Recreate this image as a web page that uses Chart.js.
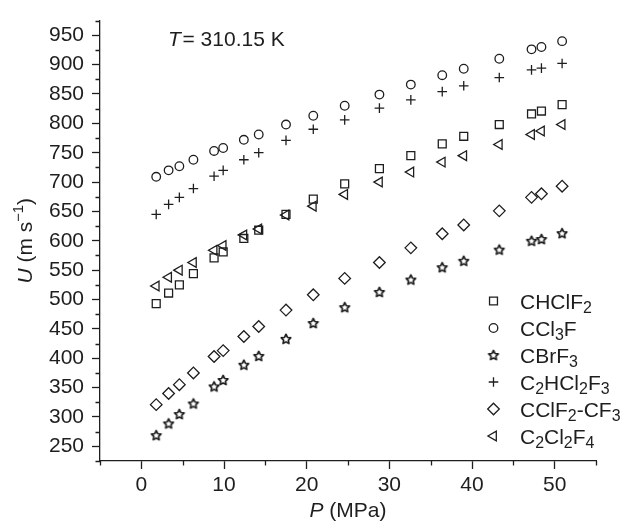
<!DOCTYPE html>
<html>
<head>
<meta charset="utf-8">
<script src="https://cdn.jsdelivr.net/npm/chart.js@4/dist/chart.umd.min.js"></script>
<style>
  html, body { margin: 0; padding: 0; background: #fff; }
  #wrap { position: relative; width: 624px; height: 529px; }
</style>
</head>
<body>
<div id="wrap"><canvas id="chart"></canvas></div>
<script>
// pressure (MPa), shared by all series
const pressure = [1.8, 3.3, 4.6, 6.3, 8.8, 9.9, 12.4, 14.2, 17.5, 20.8, 24.6, 28.8, 32.6, 36.4, 39.0, 43.3, 47.2, 48.4, 50.9];

// speed of sound U (m/s)
const uCHClF2 = [493, 511, 525, 544, 571, 581, 604, 618, 645, 671, 697, 723, 745, 765, 778, 798, 816, 821, 832];
const uCCl3F = [709, 720, 727, 738, 753, 758, 772, 781, 798, 813, 830, 849, 866, 882, 893, 910, 926, 930, 940];
const uCBrF3 = [269, 289, 305, 323, 352, 363, 389, 404, 433, 460, 487, 513, 534, 555, 566, 585, 600, 603, 613];
const uC2HCl2F3 = [645, 662, 674, 689, 710, 720, 738, 750, 771, 790, 806, 826, 840, 854, 864, 878, 891, 894, 902];
const uCClF2CF3 = [321, 340, 355, 375, 403, 413, 437, 454, 482, 508, 536, 563, 588, 612, 627, 651, 674, 680, 693];
const uC2Cl2F4 = [523, 538, 550, 563, 584, 592, 610, 620, 644, 659, 679, 700, 717, 734, 745, 764, 781, 787, 798];

const xTicks = [0, 10, 20, 30, 40, 50];
const yTicks = [250, 300, 350, 400, 450, 500, 550, 600, 650, 700, 750, 800, 850, 900, 950];
const xMinorTicks = [-5, 5, 15, 25, 35, 45, 55];
const yMinorTicks = [225, 275, 325, 375, 425, 475, 525, 575, 625, 675, 725, 775, 825, 875, 925, 975];

const INK = '#1e1e1e';
const FONT = '"Liberation Sans", Arial, sans-serif';
const FS = 21;

function makeStar(r) {
  const size = 14;
  const c = document.createElement('canvas');
  c.width = size;
  c.height = size;
  const g = c.getContext('2d');
  g.translate(size / 2, size / 2 + 0.5);
  g.beginPath();
  for (let i = 0; i < 10; i++) {
    const rr = i % 2 === 0 ? r : r * 0.5;
    const a = -Math.PI / 2 + i * Math.PI / 5;
    g.lineTo(rr * Math.cos(a), rr * Math.sin(a));
  }
  g.closePath();
  g.lineWidth = 1.7;
  g.lineJoin = 'round';
  g.strokeStyle = INK;
  g.stroke();
  return c;
}
const starImg = makeStar(5);

// legend labels as rich text pieces: [text, kind]
const series = [
  { values: uCHClF2, style: 'rect', radius: 5.6, rotation: 0,
    label: [['CHClF', 'n'], ['2', 'sub']] },
  { values: uCCl3F, style: 'circle', radius: 4.3, rotation: 0,
    label: [['CCl', 'n'], ['3', 'sub'], ['F', 'n']] },
  { values: uCBrF3, style: starImg, radius: 5, rotation: 0,
    label: [['CBrF', 'n'], ['3', 'sub']] },
  { values: uC2HCl2F3, style: 'cross', radius: 4.8, rotation: 0,
    label: [['C', 'n'], ['2', 'sub'], ['HCl', 'n'], ['2', 'sub'], ['F', 'n'], ['3', 'sub']] },
  { values: uCClF2CF3, style: 'rectRot', radius: 5.8, rotation: 0,
    label: [['CClF', 'n'], ['2', 'sub'], ['-CF', 'n'], ['3', 'sub']] },
  { values: uC2Cl2F4, style: 'triangle', radius: 5.6, rotation: -90,
    label: [['C', 'n'], ['2', 'sub'], ['Cl', 'n'], ['2', 'sub'], ['F', 'n'], ['4', 'sub']] },
];

function richParts(ctx, parts, size, draw, x, y) {
  let cx = x || 0;
  for (const [t, kind] of parts) {
    let fs = size, dy = 0, st = '';
    if (kind === 'sub') { fs = size * 0.76; dy = size * 0.22; }
    if (kind === 'sup') { fs = size * 0.7; dy = -size * 0.4; }
    if (kind === 'i') st = 'italic ';
    ctx.font = `${st}${fs}px ${FONT}`;
    if (draw) ctx.fillText(t, cx, y + dy);
    cx += ctx.measureText(t).width;
  }
  return cx - (x || 0);
}

const textPlugin = {
  id: 'textPlugin',
  afterDraw(chart) {
    const ctx = chart.ctx;
    const xs = chart.scales.x;
    const ys = chart.scales.y;
    ctx.save();
    // minor ticks
    ctx.strokeStyle = INK;
    ctx.lineWidth = 1.3;
    ctx.beginPath();
    xMinorTicks.forEach((v) => {
      const px = Math.round(xs.getPixelForValue(v)) + 0.5;
      ctx.moveTo(px, ys.bottom);
      ctx.lineTo(px, ys.bottom + 4.5);
    });
    yMinorTicks.forEach((v) => {
      const py = Math.round(ys.getPixelForValue(v)) + 0.5;
      ctx.moveTo(xs.left, py);
      ctx.lineTo(xs.left - 4.5, py);
    });
    ctx.stroke();

    ctx.fillStyle = INK;
    ctx.textAlign = 'left';
    ctx.textBaseline = 'alphabetic';

    // x axis title
    const xt = [['P', 'i'], [' (MPa)', 'n']];
    const xw = richParts(ctx, xt, FS, false);
    richParts(ctx, xt, FS, true, (xs.left + xs.right) / 2 - xw / 2, 516.5);

    // y axis title
    const yt = [['U', 'i'], [' (m s', 'n'], ['\u22121', 'sup'], [')', 'n']];
    const yw = richParts(ctx, yt, FS, false);
    ctx.save();
    ctx.translate(31.5, (ys.top + ys.bottom) / 2);
    ctx.rotate(-Math.PI / 2);
    richParts(ctx, yt, FS, true, -yw / 2, 0);
    ctx.restore();

    // annotation
    richParts(ctx, [['T', 'i']], FS, true, 168, 46);
    richParts(ctx, [['= 310.15 K', 'n']], FS, true, 182.5, 46);

    // legend
    const draw = Chart.helpers && Chart.helpers.drawPoint;
    series.forEach((s, i) => {
      const base = 308.5 + i * 27;
      ctx.strokeStyle = INK;
      ctx.fillStyle = 'rgba(0,0,0,0)';
      ctx.lineWidth = 1.3;
      if (draw) {
        draw(ctx, { pointStyle: s.style, radius: s.radius, rotation: s.rotation, borderWidth: 1.3 }, 493.5, base - 7.5);
      }
      ctx.fillStyle = INK;
      richParts(ctx, s.label, FS, true, 520, base);
    });
    ctx.restore();
  },
};

const datasets = series.map((s) => ({
  data: pressure.map((p, i) => ({ x: p, y: s.values[i] })),
  pointStyle: s.style,
  pointRadius: s.radius,
  pointRotation: s.rotation,
  borderColor: INK,
  backgroundColor: 'rgba(0,0,0,0)',
  borderWidth: 1.3,
  showLine: false,
}));

new Chart(document.getElementById('chart'), {
  type: 'scatter',
  data: { datasets },
  options: {
    responsive: true,
    maintainAspectRatio: false,
    animation: false,
    events: [],
    layout: { padding: { left: 0, top: 14, right: 28, bottom: 0 } },
    plugins: { legend: { display: false }, tooltip: { enabled: false } },
    scales: {
      x: {
        type: 'linear',
        min: -5,
        max: 55,
        afterBuildTicks: (scale) => { scale.ticks = xTicks.map((v) => ({ value: v })); },
        afterFit: (scale) => { scale.height = 68; },
        border: { display: true, color: INK, width: 1.3 },
        grid: { drawOnChartArea: false, drawTicks: true, tickLength: 8, tickColor: INK, tickWidth: 1.3 },
        ticks: { color: INK, font: { family: FONT, size: FS }, padding: 4, maxRotation: 0 },
      },
      y: {
        type: 'linear',
        min: 225,
        max: 975,
        afterBuildTicks: (scale) => { scale.ticks = yTicks.map((v) => ({ value: v })); },
        afterFit: (scale) => { scale.width = 100; },
        border: { display: true, color: INK, width: 1.3 },
        grid: { drawOnChartArea: false, drawTicks: true, tickLength: 8, tickColor: INK, tickWidth: 1.3 },
        ticks: { color: INK, font: { family: FONT, size: FS }, padding: 8 },
      },
    },
  },
  plugins: [textPlugin],
});
</script>
</body>
</html>
